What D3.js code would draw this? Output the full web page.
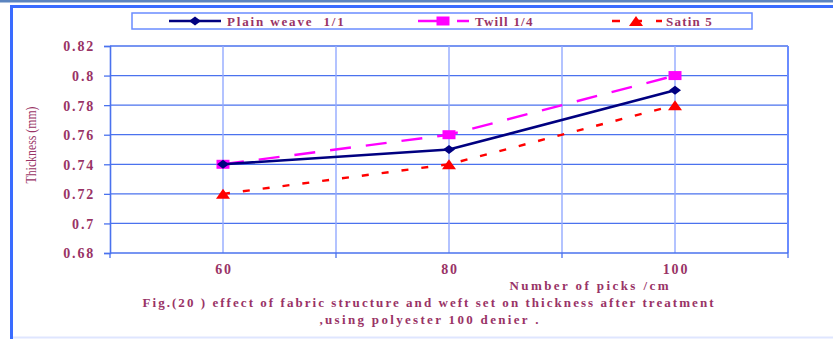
<!DOCTYPE html>
<html>
<head>
<meta charset="utf-8">
<script src="https://cdn.jsdelivr.net/npm/d3@7"></script>
<style>
  html, body { margin: 0; padding: 0; background: #ffffff; }
  svg { display: block; }
  text { font-family: "Liberation Serif", "Times New Roman", serif; fill: #993366; white-space: pre; }
</style>
</head>
<body>
<svg id="chart" width="833" height="339"></svg>
<script>
// Fabric thickness after treatment, by picks per cm and weave structure
const picks = ["60", "80", "100"];
const plainWeave = [0.74, 0.75, 0.79];
const twill = [0.74, 0.76, 0.80];
const satin = [0.72, 0.74, 0.78];
const yTicks = [0.68, 0.7, 0.72, 0.74, 0.76, 0.78, 0.8, 0.82];

const series = [
  { name: "Plain weave  1/1", values: plainWeave, color: "#000080", dash: null, marker: "diamond", width: 2.6 },
  { name: "Twill 1/4", values: twill, color: "#ff00ff", dash: "21,15", marker: "square", width: 2.4 },
  { name: "Satin 5", values: satin, color: "#ff0000", dash: "7,13", marker: "triangle", width: 2.4 }
];

const svg = d3.select("#chart");
const plot = { left: 110, right: 788, top: 46, bottom: 253 };

// Outer frame
svg.append("rect").attr("x", 0).attr("y", 0).attr("width", 833).attr("height", 2.5).attr("fill", "#5b84c0");
svg.append("rect").attr("x", 10).attr("y", 5).attr("width", 823).attr("height", 3).attr("fill", "#3a6cff");
svg.append("rect").attr("x", 10).attr("y", 5).attr("width", 3).attr("height", 334).attr("fill", "#3a6cff");
svg.append("rect").attr("x", 13).attr("y", 336.5).attr("width", 820).attr("height", 2).attr("fill", "#dfe6ff");

const x = d3.scaleBand().domain(picks).range([plot.left, plot.right]).padding(0);
const y = d3.scaleLinear().domain([0.68, 0.82]).range([plot.bottom, plot.top]);

// Horizontal gridlines
svg.append("g").selectAll("line").data(yTicks.slice(1)).join("line")
  .attr("x1", plot.left).attr("x2", plot.right)
  .attr("y1", d => y(d)).attr("y2", d => y(d))
  .attr("stroke", "#4a72ee").attr("stroke-width", 1.3);

// Vertical gridlines at category centres and boundaries
const vLines = [];
picks.forEach(p => { vLines.push(x(p) + x.bandwidth() / 2); vLines.push(x(p) + x.bandwidth()); });
svg.append("g").selectAll("line").data(vLines).join("line")
  .attr("x1", d => d).attr("x2", d => d)
  .attr("y1", plot.top).attr("y2", plot.bottom)
  .attr("stroke", d => Math.abs(d - plot.right) < 1 ? "#6a8cff" : "#93aaff")
  .attr("stroke-width", d => Math.abs(d - plot.right) < 1 ? 2 : 1.4);

// Y axis
const yAxis = d3.axisLeft(y).tickValues(yTicks).tickSize(6).tickPadding(9)
  .tickFormat(d => d3.format("")(+d.toFixed(2)));
const gy = svg.append("g").attr("transform", `translate(${plot.left},0)`).call(yAxis);
gy.select(".domain").attr("stroke", "#4a72ee").attr("stroke-width", 1.6);
gy.selectAll(".tick line").attr("stroke", "#4a72ee").attr("stroke-width", 1.3);
gy.selectAll(".tick text").attr("font-family", "Liberation Serif").attr("font-weight", "bold")
  .attr("font-size", 14).attr("letter-spacing", 1.8).attr("fill", "#993366").attr("dy", "0.35em");

// X axis: ticks at category boundaries, labels at category centres
const gx = svg.append("g");
gx.append("line").attr("x1", plot.left).attr("x2", plot.right)
  .attr("y1", plot.bottom).attr("y2", plot.bottom)
  .attr("stroke", "#4a72ee").attr("stroke-width", 1.6);
const bounds = [plot.left].concat(picks.map(p => x(p) + x.bandwidth()));
gx.selectAll("line.tk").data(bounds).join("line").attr("class", "tk")
  .attr("x1", d => d).attr("x2", d => d)
  .attr("y1", plot.bottom).attr("y2", plot.bottom + 5)
  .attr("stroke", "#4a72ee").attr("stroke-width", 1.3);
gx.selectAll("text").data(picks).join("text")
  .attr("x", d => x(d) + x.bandwidth() / 2 + 1).attr("y", 274)
  .attr("text-anchor", "middle").attr("font-weight", "bold").attr("font-size", 14)
  .attr("letter-spacing", 1.8).text(d => d);

// Axis titles
svg.append("text").attr("x", 589).attr("y", 290).attr("text-anchor", "middle")
  .attr("font-weight", "bold").attr("font-size", 13)
  .attr("textLength", 159).attr("lengthAdjust", "spacing").text("Number of picks /cm");
svg.append("text").attr("transform", "translate(36,145) rotate(-90)").attr("text-anchor", "middle")
  .attr("font-size", 15).attr("textLength", 77).attr("lengthAdjust", "spacingAndGlyphs")
  .text("Thickness (mm)");

// Caption
svg.append("text").attr("x", 428).attr("y", 307).attr("text-anchor", "middle")
  .attr("font-weight", "bold").attr("font-size", 13)
  .attr("textLength", 571).attr("lengthAdjust", "spacing")
  .text("Fig.(20 ) effect of fabric structure and weft set on thickness after treatment");
svg.append("text").attr("x", 429).attr("y", 324).attr("text-anchor", "middle")
  .attr("font-weight", "bold").attr("font-size", 13)
  .attr("textLength", 219).attr("lengthAdjust", "spacing")
  .text(",using polyester 100 denier .");

// Marker shapes
function drawMarker(g, type, cx, cy, color) {
  if (type === "diamond") {
    g.append("path").attr("d", `M${cx - 6},${cy} L${cx},${cy - 4.5} L${cx + 6},${cy} L${cx},${cy + 4.5} Z`).attr("fill", color);
  } else if (type === "square") {
    g.append("rect").attr("x", cx - 6.5).attr("y", cy - 4.5).attr("width", 13).attr("height", 9).attr("fill", color);
  } else {
    g.append("path").attr("d", `M${cx - 7},${cy + 5} L${cx},${cy - 5} L${cx + 7},${cy + 5} Z`).attr("fill", color);
  }
}

// Series lines and markers
const line = d3.line().x((d, i) => x(picks[i]) + x.bandwidth() / 2).y(d => y(d));
series.slice().reverse().forEach(s => {
  const g = svg.append("g");
  g.append("path").datum(s.values).attr("d", line).attr("fill", "none")
    .attr("stroke", s.color).attr("stroke-width", s.width)
    .attr("stroke-dasharray", s.dash);
  s.values.forEach((v, i) => drawMarker(g, s.marker, x(picks[i]) + x.bandwidth() / 2, y(v), s.color));
});

// Legend
svg.append("rect").attr("x", 132).attr("y", 13).attr("width", 620).attr("height", 16)
  .attr("fill", "#ffffff").attr("stroke", "#6a8cff").attr("stroke-width", 1.5);
const legendX = [195, 444, 636];
const legendTextX = [227, 475, 666];
const legendWidth = [118, 0, 0];
series.forEach((s, i) => {
  const g = svg.append("g");
  const cx = legendX[i];
  g.append("line").attr("x1", cx - 26).attr("x2", cx + 26).attr("y1", 21).attr("y2", 21)
    .attr("stroke", s.color).attr("stroke-width", 2.6)
    .attr("stroke-dasharray", s.dash ? (i === 1 ? "30,9,12" : "8,14") : null)
    .attr("stroke-dashoffset", i === 2 ? -2 : 0);
  drawMarker(g, s.marker, i === 1 ? cx - 1 : cx, 21, s.color);
  const t = g.append("text").attr("x", legendTextX[i]).attr("y", 25.5).attr("font-weight", "bold")
    .attr("font-size", 13).attr("letter-spacing", 1.2).text(s.name);
  if (legendWidth[i]) t.attr("textLength", legendWidth[i]).attr("lengthAdjust", "spacing");
});
</script>
</body>
</html>
